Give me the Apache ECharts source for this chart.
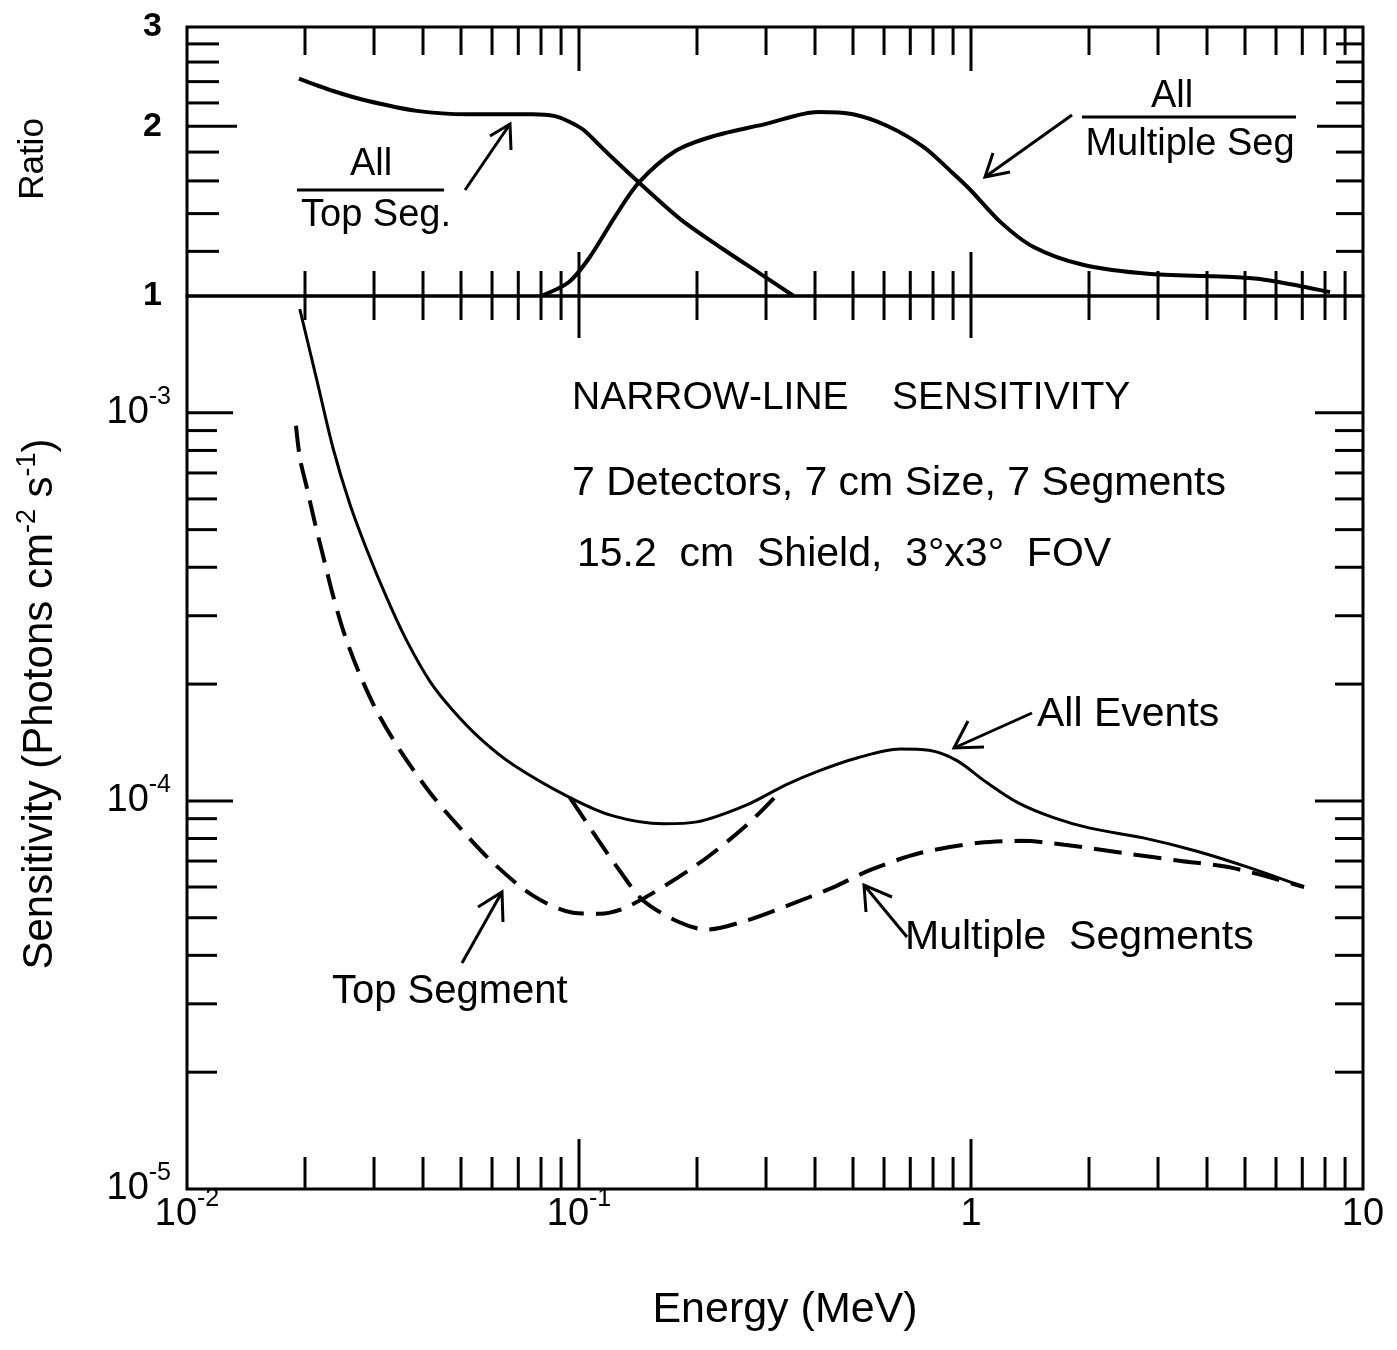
<!DOCTYPE html>
<html><head><meta charset="utf-8">
<script src="https://cdn.jsdelivr.net/npm/echarts@6/dist/echarts.min.js"></script>
<style>html,body{margin:0;padding:0;background:#fff}#c{width:1397px;height:1350px}</style>
</head><body><div id="c"></div>
<script>
// ---------- data ----------
// Upper panel: ratio curves
const ratioAllTopE = [0.0193, 0.0236, 0.0288, 0.0386, 0.0518, 0.0763, 0.0868, 0.0942, 0.1024, 0.1111, 0.1207, 0.1422, 0.182, 0.2344, 0.2878, 0.353];
const ratioAllTopR = [2.43, 2.31, 2.22, 2.13, 2.10, 2.10, 2.085, 2.04, 1.974, 1.87, 1.768, 1.59, 1.366, 1.208, 1.099, 1.0];
const ratioAllMultiE = [0.080, 0.0943, 0.1067, 0.1236, 0.1422, 0.1758, 0.2198, 0.300, 0.407, 0.500, 0.614, 0.759, 0.895, 0.994, 1.186, 1.44, 1.93, 2.87, 4.66, 5.46, 6.90, 8.24];
const ratioAllMultiR = [1.0, 1.059, 1.174, 1.383, 1.59, 1.806, 1.92, 2.02, 2.12, 2.10, 2.0, 1.835, 1.656, 1.545, 1.355, 1.223, 1.136, 1.094, 1.081, 1.072, 1.042, 1.016];
// Lower panel: sensitivity curves (photons cm^-2 s^-1)
const allEventsE = [0.0194, 0.0215, 0.0236, 0.0260, 0.0288, 0.0324, 0.0364, 0.0417, 0.0477, 0.0559, 0.0679, 0.0948, 0.1221, 0.1638, 0.200, 0.268, 0.337, 0.414, 0.512, 0.659, 0.781, 0.921, 1.09, 1.32, 1.63, 2.0, 2.75, 3.75, 5.15, 7.07];
const allEventsS = [1.85e-3, 1.20e-3, 8.08e-4, 5.84e-4, 4.42e-4, 3.32e-4, 2.58e-4, 2.03e-4, 1.71e-4, 1.45e-4, 1.24e-4, 1.02e-4, 9.15e-5, 8.73e-5, 8.83e-5, 9.77e-5, 1.10e-4, 1.20e-4, 1.29e-4, 1.36e-4, 1.35e-4, 1.27e-4, 1.12e-4, 9.88e-5, 9.04e-5, 8.52e-5, 8.03e-5, 7.43e-5, 6.72e-5, 6.0e-5];
const topSegmentE = [0.01897, 0.01942, 0.02024, 0.02121, 0.02223, 0.02358, 0.02530, 0.02763, 0.03053, 0.03495, 0.04169, 0.04971, 0.06035, 0.07634, 0.09654, 0.1131, 0.1349, 0.200, 0.268, 0.330];
const topSegmentS = [9.26e-4, 7.62e-4, 6.38e-4, 5.19e-4, 4.29e-4, 3.38e-4, 2.66e-4, 2.11e-4, 1.70e-4, 1.35e-4, 1.05e-4, 8.52e-5, 6.93e-5, 5.70e-5, 5.15e-5, 5.12e-5, 5.37e-5, 6.85e-5, 8.67e-5, 1.07e-4];
const multiSegE = [0.0948, 0.111, 0.127, 0.146, 0.181, 0.212, 0.268, 0.340, 0.442, 0.556, 0.745, 1.05, 1.34, 1.73, 2.42, 3.40, 4.64, 7.07];
const multiSegS = [1.02e-4, 8.03e-5, 6.61e-5, 5.53e-5, 4.86e-5, 4.66e-5, 4.92e-5, 5.37e-5, 5.97e-5, 6.65e-5, 7.35e-5, 7.80e-5, 7.89e-5, 7.71e-5, 7.35e-5, 7.01e-5, 6.72e-5, 6.0e-5];

// Axes / ticks
const energyRange = [0.01, 10];
const ratioRange = [1, 3];
const sensRange = [1e-5, 2e-3];
const energyMajorTicks = [0.1, 1];
const energyMinorTicks = [0.02,0.03,0.04,0.05,0.06,0.07,0.08,0.09, 0.2,0.3,0.4,0.5,0.6,0.7,0.8,0.9, 2,3,4,5,6,7,8,9];
const ratioMajorTicks = [2];
const ratioMinorTicks = [1.2,1.4,1.6,1.8,2.2,2.4,2.6,2.8];
const ratioLabels = [1, 2, 3];
const sensMajorTicks = [1e-4, 1e-3];
const sensMinorTicks = [2e-5,3e-5,4e-5,5e-5,6e-5,7e-5,8e-5,9e-5, 2e-4,3e-4,4e-4,5e-4,6e-4,7e-4,8e-4,9e-4];

// ---------- chart ----------
const FONT = "'Liberation Sans', Arial, Helvetica, sans-serif";
const L = Math.log10;
const pairs = (xs, ys) => xs.map((x, i) => [L(x), L(ys[i])]);

const xMin = L(energyRange[0]), xMax = L(energyRange[1]);
const rMin = L(ratioRange[0]), rMax = L(ratioRange[1]);
const sMin = L(sensRange[0]), sMax = L(sensRange[1]);

const xT = (vals, yv, d) => vals.map(v => [L(v), yv, 0, d]);
const yT = (vals, xv, d) => vals.map(v => [xv, L(v), d, 0]);

const ticksTop = [].concat(
  xT(energyMinorTicks, rMax, 28), xT(energyMajorTicks, rMax, 44),
  xT(energyMinorTicks, rMin, -25), xT(energyMajorTicks, rMin, -44),
  yT(ratioMinorTicks, xMin, 32), yT(ratioMajorTicks, xMin, 50),
  yT(ratioMinorTicks, xMax, -27), yT(ratioMajorTicks, xMax, -46)
);
const ticksLow = [].concat(
  xT(energyMinorTicks, sMax, 24), xT(energyMajorTicks, sMax, 42),
  xT(energyMinorTicks, sMin, -32), xT(energyMajorTicks, sMin, -50),
  yT(sensMinorTicks, xMin, 30), yT(sensMajorTicks, xMin, 46),
  yT(sensMinorTicks, xMax, -28), yT(sensMajorTicks, xMax, -48)
);

function renderTick(params, api) {
  const p = api.coord([api.value(0), api.value(1)]);
  return {
    type: 'line',
    shape: { x1: p[0], y1: p[1], x2: p[0] + api.value(2), y2: p[1] + api.value(3) },
    style: { stroke: '#000', lineWidth: 3 }
  };
}

const richLbl = {
  b: { fontSize: 38, lineHeight: 38, fontFamily: FONT, color: '#000', verticalAlign: 'bottom' },
  s: { fontSize: 25, lineHeight: 25, fontFamily: FONT, color: '#000', verticalAlign: 'bottom', padding: [0, 0, 22, 0] }
};

const lineBase = { type: 'line', showSymbol: false, symbol: 'none', smooth: 0.3, silent: true };

const option = {
  animation: false,
  backgroundColor: '#fff',
  grid: [
    { left: 187, top: 27, width: 1176, height: 269, show: true, borderColor: '#000', borderWidth: 3 },
    { left: 187, top: 296, width: 1176, height: 893, show: true, borderColor: '#000', borderWidth: 3 }
  ],
  xAxis: [
    { gridIndex: 0, type: 'value', min: xMin, max: xMax, interval: 1,
      axisLine: { show: false }, axisTick: { show: false }, axisLabel: { show: false }, splitLine: { show: false } },
    { gridIndex: 1, type: 'value', min: xMin, max: xMax, interval: 1,
      axisLine: { show: false }, axisTick: { show: false }, splitLine: { show: false },
      axisLabel: { margin: 7, fontSize: 38, fontFamily: FONT, color: '#000', rich: richLbl,
        formatter: v => { const r = Math.round(v); if (r === 0) return '{b|1}'; if (r === 1) return '{b|10}'; return '{b|10}{s|' + r + '}'; } } }
  ],
  yAxis: [
    { gridIndex: 0, type: 'value', min: rMin, max: rMax,
      axisLine: { show: false }, axisTick: { show: false }, splitLine: { show: false },
      axisLabel: { margin: 25, fontSize: 34, fontFamily: FONT, color: '#000', fontWeight: 'bold',
        customValues: ratioLabels.map(L),
        formatter: v => String(Math.round(Math.pow(10, v))) } },
    { gridIndex: 1, type: 'value', min: sMin, max: sMax, interval: 1,
      axisLine: { show: false }, axisTick: { show: false }, splitLine: { show: false },
      axisLabel: { margin: 16, fontSize: 38, fontFamily: FONT, color: '#000', rich: richLbl, showMaxLabel: false,
        formatter: v => { const r = Math.round(v); if (Math.abs(v - r) > 1e-6) return ''; return '{b|10}{s|' + r + '}'; } } }
  ],
  series: [
    { type: 'custom', xAxisIndex: 0, yAxisIndex: 0, renderItem: renderTick, data: ticksTop, silent: true, z: 5 },
    { type: 'custom', xAxisIndex: 1, yAxisIndex: 1, renderItem: renderTick, data: ticksLow, silent: true, z: 5 },
    Object.assign({}, lineBase, { name: 'All / Top Seg.', xAxisIndex: 0, yAxisIndex: 0, data: pairs(ratioAllTopE, ratioAllTopR), lineStyle: { color: '#000', width: 4 } }),
    Object.assign({}, lineBase, { name: 'All / Multiple Seg', xAxisIndex: 0, yAxisIndex: 0, data: pairs(ratioAllMultiE, ratioAllMultiR), lineStyle: { color: '#000', width: 4 } }),
    Object.assign({}, lineBase, { name: 'All Events', xAxisIndex: 1, yAxisIndex: 1, data: pairs(allEventsE, allEventsS), lineStyle: { color: '#000', width: 3 } }),
    Object.assign({}, lineBase, { name: 'Top Segment', xAxisIndex: 1, yAxisIndex: 1, data: pairs(topSegmentE, topSegmentS), lineStyle: { color: '#000', width: 4, type: [26, 12] } }),
    Object.assign({}, lineBase, { name: 'Multiple Segments', xAxisIndex: 1, yAxisIndex: 1, data: pairs(multiSegE, multiSegS), lineStyle: { color: '#000', width: 4, type: [28, 12] } })
  ]
};

// ---------- annotations ----------
function txt(text, x, y, size, align, extra) {
  return Object.assign({ type: 'text', x: x, y: y, silent: true, z: 20,
    style: { text: text, x: 0, y: 0, fontSize: size, fontFamily: FONT, fill: '#000',
      align: align || 'center', verticalAlign: 'middle', textAlign: align || 'center', textVerticalAlign: 'middle' } }, extra || {});
}
function pl(points, w) {
  return { type: 'polyline', silent: true, z: 20, shape: { points: points }, style: { stroke: '#000', lineWidth: w || 3, fill: null } };
}
option.graphic = [
  txt('All', 371, 165, 38),
  pl([[297, 190], [444, 190]], 3),
  txt('Top Seg.', 376, 216, 38),
  pl([[465, 190], [510, 124]]), pl([[490, 136], [510, 124], [511, 150]]),
  txt('All', 1172, 97, 38),
  pl([[1082, 117], [1296, 117]], 3),
  txt('Multiple Seg', 1190, 145, 38),
  pl([[1072, 115], [985, 177]]), pl([[993, 153], [985, 177], [1010, 172]]),
  txt('NARROW-LINE    SENSITIVITY', 572, 398, 39, 'left'),
  txt('7 Detectors, 7 cm Size, 7 Segments', 572, 484, 41, 'left'),
  txt('15.2  cm  Shield,  3°x3°  FOV', 577, 555, 41, 'left'),
  txt('All Events', 1037, 715, 41, 'left'),
  pl([[1032, 713], [954, 748]]), pl([[968, 721], [954, 748], [984, 747]]),
  txt('Multiple  Segments', 905, 938, 41, 'left'),
  pl([[907, 937], [864, 885]]), pl([[866, 912], [864, 885], [892, 897]]),
  txt('Top Segment', 332, 992, 40, 'left'),
  pl([[462, 963], [502, 892]]), pl([[478, 907], [502, 892], [503, 922]]),
  txt('Energy (MeV)', 785, 1310, 43),
  txt('Ratio', 33, 159, 35, 'center', { rotation: Math.PI / 2 }),
  { type: 'text', x: 40, y: 704, rotation: Math.PI / 2, silent: true, z: 20,
    style: { text: '{n|Sensitivity (Photons cm}{s|-2}{n| s}{s|-1}{n|)}', x: 0, y: 0,
      align: 'center', verticalAlign: 'middle', textAlign: 'center', textVerticalAlign: 'middle', fill: '#000',
      rich: { n: { fontSize: 42, lineHeight: 42, fontFamily: FONT, fill: '#000', color: '#000', verticalAlign: 'bottom' },
              s: { fontSize: 27, lineHeight: 27, fontFamily: FONT, fill: '#000', color: '#000', verticalAlign: 'bottom', padding: [0, 0, 20, 0] } } } }
];

const chart = echarts.init(document.getElementById('c'), null, { renderer: 'canvas' });
chart.setOption(option);
</script>
</body></html>
